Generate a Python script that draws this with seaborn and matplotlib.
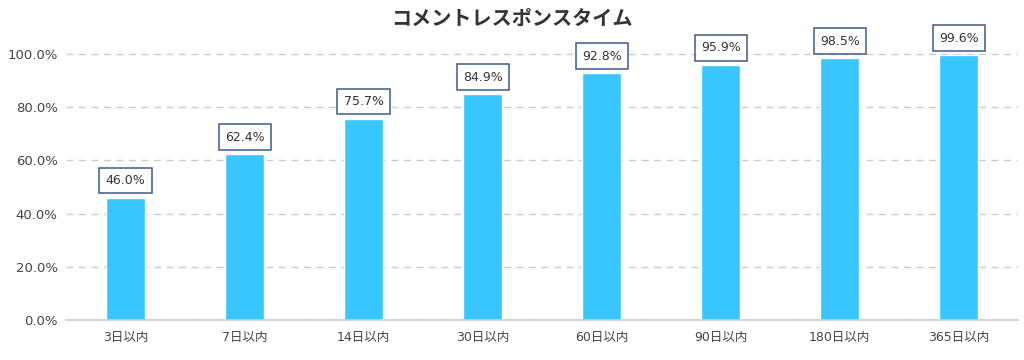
import matplotlib
matplotlib.use("Agg")
import matplotlib.pyplot as plt
import seaborn as sns
import pandas as pd

categories = ["3日以内", "7日以内", "14日以内", "30日以内", "60日以内", "90日以内", "180日以内", "365日以内"]
values = [46.0, 62.4, 75.7, 84.9, 92.8, 95.9, 98.5, 99.6]
yticks = [0, 20, 40, 60, 80, 100]
title = "コメントレスポンスタイム"

sns.set_theme(style="white")
plt.rcParams['font.family'] = ['DejaVu Sans', 'Noto Sans CJK JP']

df = pd.DataFrame({"cat": categories, "val": values})
fig = plt.figure(figsize=(10.24, 3.6), dpi=100)
ax = fig.add_axes([0.0645, 0.111, 0.93, 0.776])
sns.barplot(data=df, x="cat", y="val", color="#38C6FF", width=0.33, saturation=1, ax=ax, zorder=3)
ax.set_ylim(0, 105)
ax.set_xlim(-0.5, len(categories) - 0.5)
ax.set_yticks(yticks)
ax.set_yticklabels([f"{t:.1f}%" for t in yticks], fontsize=9.5, color="#444444")
ax.tick_params(axis='x', labelsize=9, colors="#444444", length=0, pad=8)
ax.tick_params(axis='y', length=0, pad=6)
ax.set_xlabel("")
ax.set_ylabel("")
ax.yaxis.grid(True, linestyle=(0, (5, 4)), color="#cccccc", linewidth=1, zorder=0)
for s in ["top", "right", "left"]:
    ax.spines[s].set_visible(False)
ax.spines["bottom"].set_color("#cccccc")
ax.spines["bottom"].set_linewidth(1.2)
ax.spines["bottom"].set_zorder(4)

for i, v in enumerate(values):
    ax.annotate(f"{v:.1f}%", xy=(i, v), xytext=(0, 7.5), textcoords="offset points",
                ha="center", va="bottom", fontsize=9, color="#333333",
                bbox=dict(boxstyle="square,pad=0.5", fc="white", ec="#3d5a8a", lw=1.1),
                annotation_clip=False, zorder=5)

fig.text(0.5, 0.948, title, ha="center", va="center", fontsize=14.5, fontweight="bold",
         color="#333333", family=['Noto Sans CJK JP', 'DejaVu Sans'])
fig.savefig("out.png", dpi=100)
